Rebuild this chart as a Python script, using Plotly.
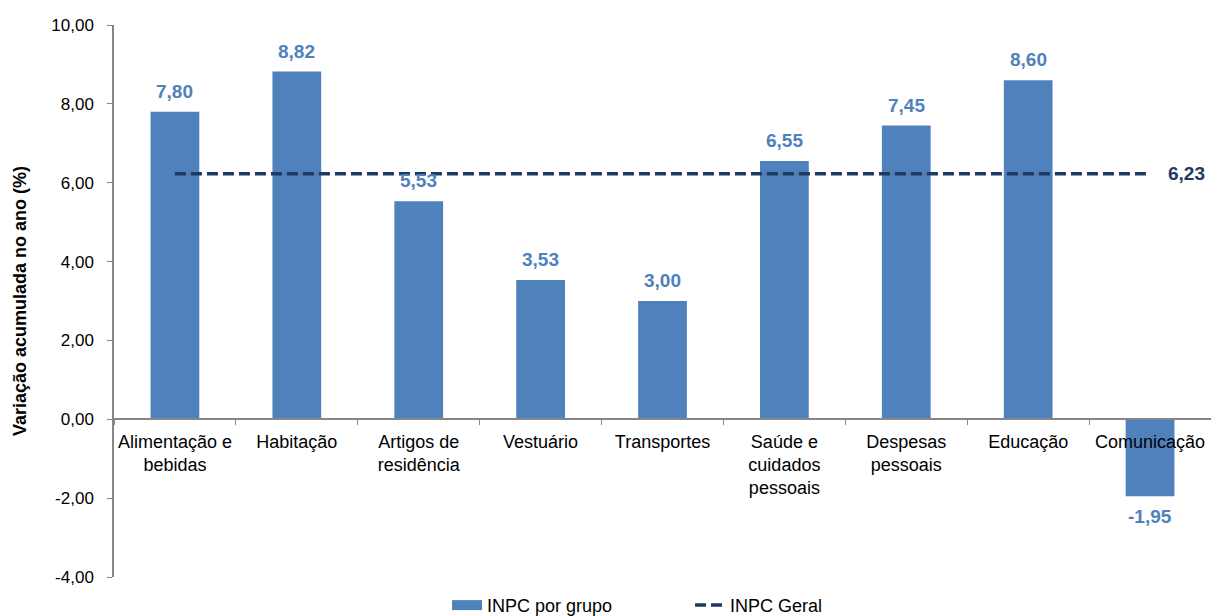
import plotly.graph_objects as go

categorias = [
    "Alimentação e<br>bebidas",
    "Habitação",
    "Artigos de<br>residência",
    "Vestuário",
    "Transportes",
    "Saúde e<br>cuidados<br>pessoais",
    "Despesas<br>pessoais",
    "Educação",
    "Comunicação",
]
inpc_grupo = [7.80, 8.82, 5.53, 3.53, 3.00, 6.55, 7.45, 8.60, -1.95]
inpc_geral = 6.23
y_min, y_max = -4, 10
y_ticks = [-4, -2, 0, 2, 4, 6, 8, 10]

cor_barra = "#4F81BD"
cor_linha = "#1F3A60"
cinza = "#868686"
fonte = "Liberation Sans, Arial, sans-serif"
tracejado = "11px,5px"


def fmt(v):
    return f"{v:.2f}".replace(".", ",")


fig = go.Figure()
fig.add_trace(go.Bar(
    x=categorias, y=inpc_grupo, name="INPC por grupo", showlegend=False,
    marker=dict(color=cor_barra, line=dict(width=0)),
))
# legend entry for the bars, drawn as a wide band
fig.add_trace(go.Scatter(
    x=[None], y=[None], name="INPC por grupo", mode="lines",
    line=dict(color=cor_barra, width=10),
))
fig.add_trace(go.Scatter(
    x=categorias, y=[inpc_geral] * len(categorias), name="INPC Geral",
    mode="lines", line=dict(color=cor_linha, width=3.5, dash=tracejado),
))

# value labels above (or below) each bar
for c, v in zip(categorias, inpc_grupo):
    fig.add_annotation(
        x=c, y=v, text=f"<b>{fmt(v)}</b>", showarrow=False,
        yanchor="bottom" if v >= 0 else "top",
        yshift=8 if v >= 0 else -8,
        font=dict(family=fonte, size=19, color=cor_barra),
    )

# general index label at the end of the dashed line
fig.add_annotation(
    x=categorias[-1], y=inpc_geral, text=f"<b>{fmt(inpc_geral)}</b>",
    showarrow=False, xanchor="left", xshift=16,
    font=dict(family=fonte, size=19, color=cor_linha),
)

fig.update_layout(
    width=1211, height=616,
    margin=dict(l=114, r=0, t=25, b=39, autoexpand=False),
    plot_bgcolor="white", paper_bgcolor="white",
    bargap=0.6,
    font=dict(family=fonte, size=18, color="black"),
    showlegend=True,
    legend=dict(
        orientation="h", x=0.3036, xanchor="left", y=-0.085, yanchor="bottom",
        font=dict(size=18), entrywidth=198, entrywidthmode="pixels",
    ),
    xaxis=dict(
        anchor="free", position=(0 - y_min) / (y_max - y_min),
        showline=True, linecolor=cinza, linewidth=1.5,
        ticks="outside", ticklen=5, tickcolor=cinza, tickson="boundaries",
        showgrid=False, zeroline=False, tickangle=0,
        ticklabelstandoff=6,
        tickfont=dict(size=18, color="black"),
    ),
    yaxis=dict(
        range=[y_min, y_max], tickvals=y_ticks,
        ticktext=[fmt(t) for t in y_ticks],
        showline=True, linecolor=cinza, linewidth=1.5,
        ticks="outside", ticklen=5, tickcolor=cinza,
        showgrid=False, zeroline=False,
        ticklabelstandoff=10,
        tickfont=dict(size=17, color="black"),
        title=dict(text="<b>Variação acumulada no ano (%)</b>",
                   font=dict(size=18), standoff=20),
    ),
)

fig.write_html("out.html")
